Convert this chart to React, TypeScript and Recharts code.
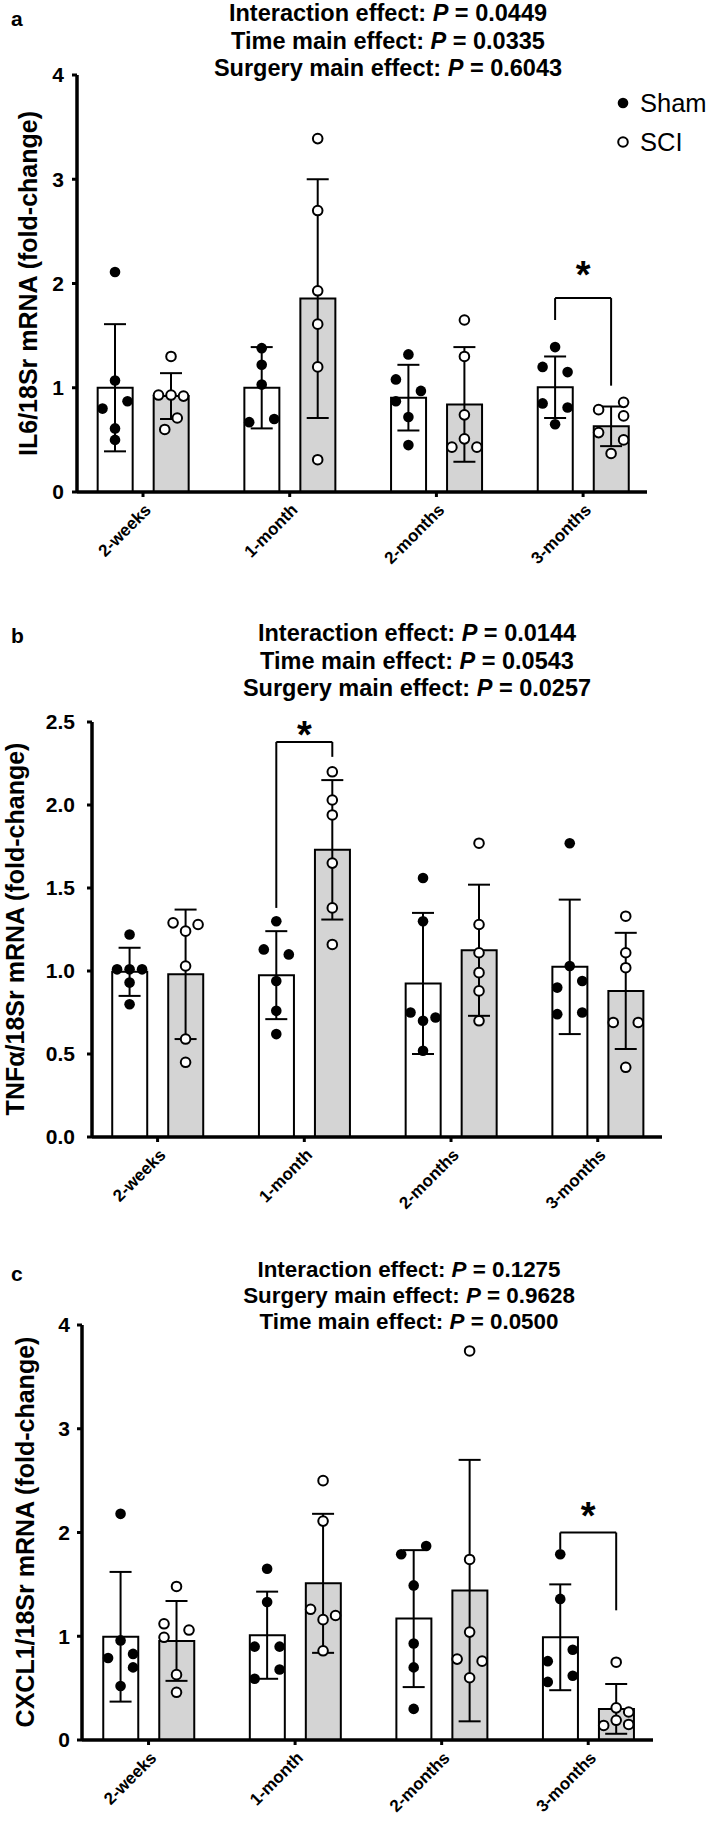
import React from 'react';
import { ComposedChart, Bar, Scatter, ErrorBar, XAxis, YAxis, ReferenceLine, ReferenceDot } from 'recharts';

const categories = ['2-weeks', '1-month', '2-months', '3-months'];

// a: IL6/18Sr
const il6ShamMean = [1.0, 1.0, 0.905, 1.005];
const il6ShamSd = [0.61, 0.39, 0.315, 0.295];
const il6SciMean = [0.92, 1.855, 0.84, 0.63];
const il6SciSd = [0.22, 1.145, 0.55, 0.19];
const il6ShamPts = [[2.11, 1.07, 0.87, 0.8, 0.61, 0.5], [1.38, 1.22, 1.03, 0.7, 0.67], [1.32, 1.08, 0.97, 0.87, 0.72, 0.45], [1.39, 1.2, 1.15, 0.85, 0.81, 0.65]];
const il6ShamLanes = [[0, 0, 1, -1, 0, 0], [0, 0, 0, 1, -1], [0, -1, 1, -1, 0, 0], [0, -1, 1, -1, 1, 0]];
const il6SciPts = [[1.3, 0.93, 0.93, 0.92, 0.71, 0.6], [3.39, 2.7, 1.93, 1.61, 1.2, 0.31], [1.65, 1.3, 0.74, 0.51, 0.43, 0.43], [0.86, 0.79, 0.73, 0.57, 0.5, 0.37]];
const il6SciLanes = [[0, -1, 0, 1, 0.5, -0.5], [0, 0, 0, 0, 0, 0], [0, 0, 0, 0, -1, 1], [1, -1, 1, -1, 1, 0]];
const il6Title = [['Interaction effect', '0.0449'], ['Time main effect', '0.0335'], ['Surgery main effect', '0.6043']];

// b: TNFa/18Sr
const tnfShamMean = [0.995, 0.975, 0.925, 1.025];
const tnfShamSd = [0.145, 0.265, 0.425, 0.405];
const tnfSciMean = [0.98, 1.73, 1.125, 0.88];
const tnfSciSd = [0.39, 0.42, 0.395, 0.35];
const tnfShamPts = [[1.22, 1.01, 1.01, 1.01, 0.93, 0.8], [1.3, 1.13, 1.1, 0.94, 0.76, 0.62], [1.56, 1.3, 0.75, 0.72, 0.7, 0.52], [1.77, 1.03, 0.94, 0.9, 0.75, 0.74]];
const tnfShamLanes = [[0, -1, 0, 1, 0, 0], [0, -1, 1, 0, 0, 0], [0, 0, -1, 1, 0, 0], [0, 0, 1, -1, 1, -1]];
const tnfSciPts = [[1.29, 1.28, 1.24, 1.03, 0.59, 0.45], [2.2, 2.03, 1.94, 1.65, 1.38, 1.16], [1.77, 1.28, 1.11, 0.99, 0.88, 0.7], [1.33, 1.11, 1.02, 0.69, 0.69, 0.42]];
const tnfSciLanes = [[-1, 1, 0, 0, 0, 0], [0, 0, 0, 0, 0, 0], [0, 0, 0, 0, 0, 0], [0, 0, 0, -1, 1, 0]];
const tnfTitle = [['Interaction effect', '0.0144'], ['Time main effect', '0.0543'], ['Surgery main effect', '0.0257']];

// c: CXCL1/18Sr
const cxclShamMean = [0.995, 1.01, 1.17, 0.99];
const cxclShamSd = [0.625, 0.42, 0.66, 0.51];
const cxclSciMean = [0.955, 1.51, 1.44, 0.3];
const cxclSciSd = [0.385, 0.67, 1.26, 0.24];
const cxclShamPts = [[2.18, 0.96, 0.83, 0.79, 0.7, 0.52], [1.65, 1.33, 0.9, 0.9, 0.68, 0.59], [1.87, 1.79, 1.49, 0.93, 0.7, 0.3], [1.79, 1.36, 0.87, 0.76, 0.62, 0.56]];
const cxclShamLanes = [[0, 0, 1, -1, 1, 0], [0, 0, -1, 1, 1, -1], [1, -1, 0, 0, 0, 0], [0, 0, 1, -1, 1, -1]];
const cxclSciPts = [[1.48, 1.12, 1.06, 0.99, 0.63, 0.46], [2.5, 2.11, 1.26, 1.2, 1.16, 0.86], [3.75, 1.74, 1.04, 0.78, 0.76, 0.6], [0.75, 0.31, 0.27, 0.19, 0.15, 0.14]];
const cxclSciLanes = [[0, -1, 1, -1, 0, 0], [0, 0, -1, 1, 0, 0], [0, 0, 0, -1, 1, 0], [0, 0, 1, 0, 1, -1]];
const cxclTitle = [['Interaction effect', '0.1275'], ['Surgery main effect', '0.9628'], ['Time main effect', '0.0500']];

const FONT = '"Liberation Sans", Arial, Helvetica, sans-serif';
const STEP = 146.7; // px per category
const SHIFT = 28 / STEP;
const LANE = 12.5 / STEP;

function pointsOf(pts: number[][], lanes: number[][], side: number) {
  const out: { x: number; y: number }[] = [];
  pts.forEach((row, i) => row.forEach((v, j) => out.push({ x: i + side * SHIFT + lanes[i][j] * LANE, y: v })));
  return out;
}

function meansOf(mean: number[], sd: number[], side: number) {
  return mean.map((m, i) => ({ x: i + side * SHIFT, y: m, err: sd[i] }));
}

const FilledDot = (p: any) => <circle cx={p.cx} cy={p.cy} r={5.3} fill="#000" />;
const OpenDot = (p: any) => <circle cx={p.cx} cy={p.cy} r={4.8} fill="#fff" stroke="#000" strokeWidth={2} />;
const NoDot = () => <g />;

const XTick = (p: any) => (
  <g transform={`translate(${p.x + 9},${p.y + 12})`}>
    <text textAnchor="end" transform="rotate(-45)" fontSize={17} fontWeight="bold" fill="#000">
      {categories[p.payload.value]}
    </text>
  </g>
);

interface PanelProps {
  top: number;
  height: number;
  plotLeft: number;
  plotRight: number;
  plotTop: number;
  plotBottom: number;
  xDomain: [number, number];
  yMax: number;
  yTicks: number[];
  decimals: number;
  tickGap: number;
  shamMean: number[];
  shamSd: number[];
  sciMean: number[];
  sciSd: number[];
  shamPts: number[][];
  shamLanes: number[][];
  sciPts: number[][];
  sciLanes: number[][];
  bracket: { cat: number; left: number; top: number; right: number; star: number };
}

function Panel(props: PanelProps) {
  const { top, height, plotLeft, plotRight, plotTop, plotBottom, bracket } = props;
  const barData = categories.map((c, i) => ({ x: i, name: c, sham: props.shamMean[i], sci: props.sciMean[i] }));
  const xl = bracket.cat - SHIFT;
  const xr = bracket.cat + SHIFT;
  return (
    <div style={{ position: 'absolute', left: 0, top }}>
      <ComposedChart
        width={709}
        height={height}
        data={barData}
        barSize={35}
        barGap={21}
        margin={{ top: plotTop - top, right: 709 - plotRight, left: 0, bottom: top + height - plotBottom - 60 }}
      >
        <XAxis
          dataKey="x"
          type="number"
          domain={props.xDomain}
          ticks={[0, 1, 2, 3]}
          allowDataOverflow
          height={60}
          axisLine={{ stroke: '#000', strokeWidth: 3.5 }}
          tickLine={{ stroke: '#000', strokeWidth: 3 }}
          tickSize={5}
          tick={<XTick />}
        />
        <XAxis xAxisId="bars" dataKey="x" type="number" domain={props.xDomain} ticks={[0, 1, 2, 3]} allowDataOverflow hide />
        <YAxis
          type="number"
          width={plotLeft}
          domain={[0, props.yMax]}
          ticks={props.yTicks}
          allowDataOverflow
          axisLine={{ stroke: '#000', strokeWidth: 3.5 }}
          tickLine={{ stroke: '#000', strokeWidth: 3 }}
          tickSize={5}
          tickMargin={props.tickGap}
          tick={{ fill: '#000', fontSize: 21, fontWeight: 'bold' }}
          tickFormatter={(v: number) => v.toFixed(props.decimals)}
        />
        <Bar xAxisId="bars" dataKey="sham" fill="#fff" stroke="#000" strokeWidth={2} isAnimationActive={false} />
        <Bar xAxisId="bars" dataKey="sci" fill="#d4d4d4" stroke="#000" strokeWidth={2} isAnimationActive={false} />
        <Scatter data={pointsOf(props.shamPts, props.shamLanes, -1)} dataKey="y" shape={FilledDot} isAnimationActive={false} />
        <Scatter data={pointsOf(props.sciPts, props.sciLanes, 1)} dataKey="y" shape={OpenDot} isAnimationActive={false} />
        <Scatter data={meansOf(props.shamMean, props.shamSd, -1)} dataKey="y" shape={NoDot} isAnimationActive={false}>
          <ErrorBar dataKey="err" direction="y" width={11} stroke="#000" strokeWidth={2} isAnimationActive={false} />
        </Scatter>
        <Scatter data={meansOf(props.sciMean, props.sciSd, 1)} dataKey="y" shape={NoDot} isAnimationActive={false}>
          <ErrorBar dataKey="err" direction="y" width={11} stroke="#000" strokeWidth={2} isAnimationActive={false} />
        </Scatter>
        <ReferenceLine segment={[{ x: xl, y: bracket.left }, { x: xl, y: bracket.top }]} stroke="#000" strokeWidth={2} ifOverflow="visible" />
        <ReferenceLine segment={[{ x: xl, y: bracket.top }, { x: xr, y: bracket.top }]} stroke="#000" strokeWidth={2} ifOverflow="visible" />
        <ReferenceLine segment={[{ x: xr, y: bracket.top }, { x: xr, y: bracket.right }]} stroke="#000" strokeWidth={2} ifOverflow="visible" />
        <ReferenceDot
          x={bracket.cat}
          y={bracket.star}
          r={0}
          ifOverflow="visible"
          shape={(p: any) => (
            <text x={p.cx} y={p.cy + 21} textAnchor="middle" fontSize={38} fontWeight="bold" fill="#000">*</text>
          )}
        />
      </ComposedChart>
    </div>
  );
}

function Title({ lines, cx, ys, size }: { lines: string[][]; cx: number; ys: number[]; size: number }) {
  return (
    <g>
      {lines.map((l, i) => (
        <text key={i} x={cx} y={ys[i]} textAnchor="middle" fontSize={size} fontWeight="bold" fill="#000">
          {l[0]}: <tspan fontStyle="italic">P</tspan> = {l[1]}
        </text>
      ))}
    </g>
  );
}

function YTitle({ text, cx, cy }: { text: string; cx: number; cy: number }) {
  return (
    <text x={cx} y={cy} dy="0.36em" transform={`rotate(-90 ${cx} ${cy})`} textAnchor="middle" fontSize={25} fontWeight="bold" fill="#000">
      {text}
    </text>
  );
}

export default function App() {
  return (
    <div style={{ position: 'relative', width: 709, height: 1822, background: '#fff', fontFamily: FONT, overflow: 'hidden' }}>
      <style>{'body{margin:0;background:#fff}'}</style>
      <Panel
        top={0} height={592} plotLeft={77} plotRight={647} plotTop={75} plotBottom={492}
        xDomain={[-0.45, 3.4356]} yMax={4} yTicks={[0, 1, 2, 3, 4]} decimals={0} tickGap={8}
        shamMean={il6ShamMean} shamSd={il6ShamSd} sciMean={il6SciMean} sciSd={il6SciSd}
        shamPts={il6ShamPts} shamLanes={il6ShamLanes} sciPts={il6SciPts} sciLanes={il6SciLanes}
        bracket={{ cat: 3, left: 1.65, top: 1.86, right: 1.02, star: 2.16 }}
      />
      <Panel
        top={600} height={630} plotLeft={92} plotRight={662} plotTop={722} plotBottom={1137}
        xDomain={[-0.447, 3.438]} yMax={2.5} yTicks={[0, 0.5, 1, 1.5, 2, 2.5]} decimals={1} tickGap={12}
        shamMean={tnfShamMean} shamSd={tnfShamSd} sciMean={tnfSciMean} sciSd={tnfSciSd}
        shamPts={tnfShamPts} shamLanes={tnfShamLanes} sciPts={tnfSciPts} sciLanes={tnfSciLanes}
        bracket={{ cat: 1, left: 1.38, top: 2.38, right: 2.29, star: 2.47 }}
      />
      <Panel
        top={1235} height={587} plotLeft={82} plotRight={653} plotTop={1325} plotBottom={1740}
        xDomain={[-0.454, 3.442]} yMax={4} yTicks={[0, 1, 2, 3, 4]} decimals={0} tickGap={7}
        shamMean={cxclShamMean} shamSd={cxclShamSd} sciMean={cxclSciMean} sciSd={cxclSciSd}
        shamPts={cxclShamPts} shamLanes={cxclShamLanes} sciPts={cxclSciPts} sciLanes={cxclSciLanes}
        bracket={{ cat: 3, left: 1.84, top: 2.0, right: 1.25, star: 2.24 }}
      />
      <svg width={709} height={1822} style={{ position: 'absolute', left: 0, top: 0, pointerEvents: 'none' }}>
        <text x={11} y={26} fontSize={21} fontWeight="bold" fill="#000">a</text>
        <text x={11} y={643} fontSize={21} fontWeight="bold" fill="#000">b</text>
        <text x={11} y={1281} fontSize={21} fontWeight="bold" fill="#000">c</text>
        <Title lines={il6Title} cx={388} ys={[21, 48.5, 76]} size={23.5} />
        <Title lines={tnfTitle} cx={417} ys={[641, 668.5, 696]} size={23.5} />
        <Title lines={cxclTitle} cx={409} ys={[1276.5, 1303, 1329]} size={22.4} />
        <YTitle text="IL6/18Sr mRNA (fold-change)" cx={28} cy={283.5} />
        <YTitle text="TNFα/18Sr mRNA (fold-change)" cx={15} cy={929} />
        <YTitle text="CXCL1/18Sr mRNA (fold-change)" cx={25} cy={1532} />
        <circle cx={623} cy={103} r={5.3} fill="#000" />
        <text x={640} y={112} fontSize={25.5} fill="#000">Sham</text>
        <circle cx={623} cy={142} r={4.8} fill="#fff" stroke="#000" strokeWidth={2} />
        <text x={640} y={151} fontSize={25.5} fill="#000">SCI</text>
      </svg>
    </div>
  );
}
